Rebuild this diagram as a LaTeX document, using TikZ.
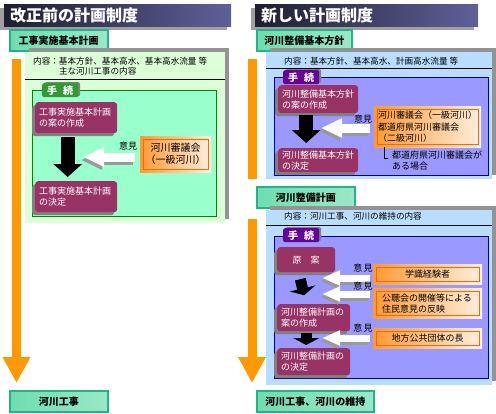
\documentclass[tikz,border=0pt]{standalone}
\usepackage{fontspec}
\setmainfont{Noto Sans CJK JP}
\usetikzlibrary{arrows.meta,positioning,shadows}
\definecolor{barleft}{HTML}{1E1E30}
\definecolor{barright}{HTML}{60609A}
\definecolor{oldpale}{HTML}{DDFFD8}
\definecolor{oldmint}{HTML}{99FFCC}
\definecolor{oldline}{HTML}{008800}
\definecolor{oldtabc}{HTML}{339933}
\definecolor{newpale}{HTML}{B8DDFF}
\definecolor{newviolet}{HTML}{9999FF}
\definecolor{newline}{HTML}{000099}
\definecolor{newtabc}{HTML}{660099}
\definecolor{plum}{HTML}{993366}
\definecolor{flow}{HTML}{FF9900}
\definecolor{glowl}{HTML}{FF9933}
\definecolor{glowr}{HTML}{FFF0E0}
\definecolor{edge}{HTML}{FF6600}
\definecolor{btnedge}{HTML}{22B386}
\definecolor{btnface}{HTML}{6EDDB0}
\tikzset{
  titlebar/.style={anchor=north west, left color=barleft, right color=barright, text=white,
    font=\fontsize{16}{16}\selectfont\bfseries, minimum height=22pt, text width=#1,
    inner xsep=6pt, inner ysep=0pt,
    drop shadow={shadow xshift=-4pt, shadow yshift=-4pt, fill=gray!75, opacity=1}},
  button/.style={anchor=north west, draw=btnedge, line width=1.5pt, left color=btnface,
    middle color=white, right color=btnface!70, font=\fontsize{10}{10}\selectfont\bfseries, inner sep=0pt},
  panel/.style={anchor=north west, inner sep=0pt,
    drop shadow={shadow xshift=4pt, shadow yshift=4pt, fill=gray!85, opacity=1}},
  proc/.style={anchor=north west, line width=1pt, inner sep=0pt},
  tab/.style={anchor=north west, text=white, font=\fontsize{10}{10}\selectfont\bfseries, inner sep=0pt,
    minimum height=14pt, minimum width=36pt, rounded corners=2pt,
    drop shadow={shadow xshift=2pt, shadow yshift=1pt, fill=gray, opacity=1}},
  plan/.style={anchor=north west, fill=plum, text=white, rounded corners=3pt, align=left,
    font=\fontsize{9}{11}\selectfont, inner xsep=4pt, inner ysep=2pt,
    drop shadow={shadow xshift=-3pt, shadow yshift=-3pt, fill=gray, opacity=1}},
  glow/.style={anchor=north west, left color=glowl, right color=glowr, font=\fontsize{9}{11}\selectfont, inner sep=0pt},
  txt/.style={anchor=north west, font=\fontsize{8.6}{10}\selectfont, inner sep=0pt, align=left},
  say/.style={font=\fontsize{9}{9}\selectfont, inner sep=0pt},
  flowarrow/.style={flow, line width=9pt, -{Triangle[length=26pt,width=26pt]}, shorten <=7pt, shorten >=7pt},
  push/.style={line width=14pt, -{Triangle[length=13pt,width=28pt]}, shorten <=3pt, shorten >=4pt},
  nudge/.style={line width=11pt, -{Triangle[length=7pt,width=26pt]}},
  opinion/.style={white, line width=9pt, -{Triangle[length=21pt,width=18pt]}, shorten <=4pt},
  remark/.style={white, line width=7pt, -{Triangle[length=18pt,width=14pt]}, shorten <=3pt},
  shade/.style={draw=gray!80, transform canvas={shift={(-2pt,-3pt)}}}
}
\begin{document}
\begin{tikzpicture}[x=1pt, y=-1pt]
\useasboundingbox (0,0) rectangle (496,413);
\node[titlebar=215pt] (oldtitle) at (4,4) {改正前の計画制度};
\node[titlebar=211pt] (newtitle) at (255,4) {新しい計画制度};
\node[button, minimum width=98pt, minimum height=21pt] (oldplan) at (9,29) {工事実施基本計画};
\node[button, minimum width=98pt, minimum height=21pt] (oldwork) at (9,390) {河川工事};
\node[button, minimum width=95pt, minimum height=21pt] (newpolicy) at (256,29) {河川整備基本方針};
\node[button, minimum width=98pt, minimum height=21pt] (newplan) at (256,186) {河川整備計画};
\node[button, minimum width=117pt, minimum height=21pt] (newwork) at (256,390) {河川工事、河川の維持};
\draw[flowarrow] ([xshift=7.5pt]oldplan.south west) -- ([xshift=7.5pt]oldwork.north west);
\draw[flowarrow, -] ([xshift=-4pt]newpolicy.south west) -- ([xshift=-4pt]newplan.north west);
\draw[flowarrow, shorten <=10pt] ([xshift=-4pt]newplan.south west) -- ([xshift=-4pt]newwork.north west);

\node[panel, fill=oldpale, minimum width=200pt, minimum height=171pt] (oldpanel) at (25,52) {};
\draw ([yshift=-27pt]oldpanel.north west) -- ([yshift=-27pt]oldpanel.north east);
\node[txt] (oldcontent) at (33,57) {内容：基本方針、基本高水、基本高水流量 等\\\phantom{内容：}主な河川工事の内容};
\node[proc, draw=oldline, fill=oldmint, minimum width=184pt, minimum height=126pt] (oldproc) at (32,90) {};
\node[tab, fill=oldtabc] (oldtab) at (42,83) {手\hspace{6pt}続};
\node[plan, text width=74pt, minimum height=31pt] (oldmake) at (35,102) {工事実施基本計画\\の案の作成};
\node[plan, text width=74pt, minimum height=31pt] (olddecide) at (35,181) {工事実施基本計画\\の決定};
\node[glow, minimum width=71pt, minimum height=36pt, font=\fontsize{10}{12}\selectfont, align=center] (oldcouncil) at (140,136) {河川審議会\\（一級河川）};
\coordinate (oldhit) at (83,157);
\draw[push, shorten <=4pt] ([xshift=-8.5pt]oldmake.south) -- ([xshift=-8.5pt]olddecide.north);
\draw[opinion, shade, shorten <=5pt] (oldcouncil.west |- oldhit) -- (oldhit);
\draw[opinion, shorten <=5pt] (oldcouncil.west |- oldhit) -- (oldhit);
\node[say] (oldop) at (128,146) {意見};

\node[panel, fill=newpale, minimum width=226pt, minimum height=127pt] (policypanel) at (266,52) {};
\draw ([yshift=-16pt]policypanel.north west) -- ([yshift=-16pt]policypanel.north east);
\node[txt] (policycontent) at (284,57) {内容：基本方針、基本高水、計画高水流量 等};
\node[proc, draw=newline, fill=newviolet, minimum width=214pt, minimum height=98pt] (policyproc) at (274,77) {};
\node[tab, fill=newtabc] (policytab) at (283,70) {手\hspace{6pt}続};
\node[plan, text width=72pt, minimum height=28pt] (policymake) at (278,85) {河川整備基本方針\\の案の作成};
\node[plan, text width=72pt, minimum height=24pt] (policydecide) at (278,148) {河川整備基本方針\\の決定};
\node[glow, minimum width=107pt, minimum height=41pt, text width=99pt, inner xsep=4pt, align=left, font=\fontsize{9}{11.5}\selectfont] (policycouncil) at (374,106) {河川審議会（一級河川）\\都道府県河川審議会\\（二級河川）};
\coordinate (policyhit) at (321,128);
\coordinate (notecorner) at (388,158);
\draw[push, shorten <=2pt, shorten >=5pt] ([xshift=-12pt]policymake.south) -- ([xshift=-12pt]policydecide.north);
\draw[opinion, shade] (policycouncil.west |- policyhit) -- (policyhit);
\draw[opinion] (policycouncil.west |- policyhit) -- (policyhit);
\node[say] (policyop) at (363,119) {意見};
\draw ([xshift=10pt]policycouncil.south west) |- (notecorner);
\node[txt, font=\fontsize{9}{10.5}\selectfont] (policynote) at (392,151) {都道府県河川審議会が\\ある場合};

\node[panel, fill=newpale, minimum width=226pt, minimum height=175pt] (planpanel) at (266,210) {};
\draw ([yshift=-15pt]planpanel.north west) -- ([yshift=-15pt]planpanel.north east);
\node[txt] (plancontent) at (284,212) {内容：河川工事、河川の維持の内容};
\node[proc, draw=newline, fill=newviolet, minimum width=214pt, minimum height=142pt] (planproc) at (274,236) {};
\node[tab, fill=newtabc] (plantab) at (283,228) {手\hspace{6pt}続};
\node[plan, minimum width=58pt, minimum height=25pt, align=center] (draft) at (277,247) {原\quad 案};
\node[plan, text width=65pt, minimum height=27pt] (planmake) at (277,304) {河川整備計画の\\案の作成};
\node[plan, text width=65pt, minimum height=27pt] (plandecide) at (277,348) {河川整備計画の\\の決定};
\node[glow, minimum width=109pt, minimum height=20pt] (expert) at (373,264) {学識経験者};
\node[glow, minimum width=109pt, minimum height=30pt, text width=91pt, inner xsep=9pt, align=left] (hearing) at (373,288) {公聴会の開催等による\\住民意見の反映};
\node[glow, minimum width=109pt, minimum height=20pt] (localgov) at (373,328) {地方公共団体の長};
\coordinate (hit1) at (322,278);
\coordinate (hit2) at (322,294);
\coordinate (hit3) at (322,338);
\draw[nudge, shorten <=7pt, shorten >=9pt] ([xshift=-7.5pt]draft.south) -- ([xshift=-7.5pt]planmake.north);
\draw[nudge, shorten <=2pt, shorten >=3pt] ([xshift=-7.5pt]planmake.south) -- ([xshift=-7.5pt]plandecide.north);
\draw[remark, shade] (expert.west |- hit1) -- (hit1);
\draw[remark] (expert.west |- hit1) -- (hit1);
\draw[remark, shade] (hearing.west |- hit2) -- (hit2);
\draw[remark] (hearing.west |- hit2) -- (hit2);
\draw[remark, shade] (localgov.west |- hit3) -- (hit3);
\draw[remark] (localgov.west |- hit3) -- (hit3);
\node[say] (op1) at (363,268) {意\,見};
\node[say] (op2) at (363,286) {意\,見};
\node[say] (op3) at (363,328) {意\,見};

\foreach \n in {oldcouncil,policycouncil,expert,hearing,localgov}
  \draw[edge, line width=1pt] ([shift={(3pt,-3pt)}]\n.north west) rectangle ([shift={(-3pt,3pt)}]\n.south east);
\end{tikzpicture}
\end{document}
